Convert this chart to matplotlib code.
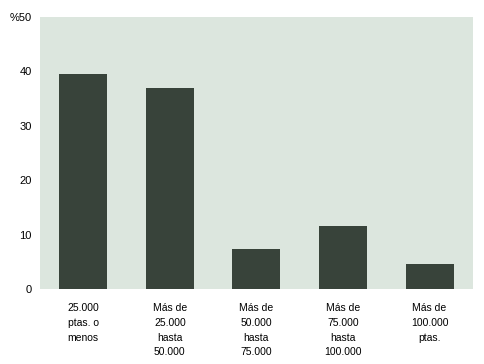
import matplotlib.pyplot as plt

plt.rcParams["font.family"] = ["Liberation Sans", "DejaVu Sans"]

categories = [
    "25.000\nptas. o\nmenos",
    "Más de\n25.000\nhasta\n50.000",
    "Más de\n50.000\nhasta\n75.000",
    "Más de\n75.000\nhasta\n100.000",
    "Más de\n100.000\nptas.",
]
values = [39.5, 36.9, 7.4, 11.6, 4.6]
yticks = [0, 10, 20, 30, 40, 50]
ytick_labels = ["0", "10", "20", "30", "40", "%50"]

fig = plt.figure(figsize=(4.84, 3.64), dpi=100)
ax = fig.add_axes([0.0826, 0.206, 0.8944, 0.747])
ax.set_facecolor("#dce6de")

ax.bar(range(len(values)), values, width=0.555, color="#38433a")

ax.set_xlim(-0.5, len(values) - 0.5)
ax.set_ylim(0, 50)
ax.set_yticks(yticks)
ax.set_yticklabels(ytick_labels, fontsize=8)
ax.set_xticks(range(len(values)))
ax.set_xticklabels(categories, fontsize=7.5, linespacing=1.6, va="top")
ax.tick_params(axis="both", length=0)
ax.tick_params(axis="y", pad=6)
ax.tick_params(axis="x", pad=10)
for s in ax.spines.values():
    s.set_visible(False)

fig.savefig("out.png", dpi=100)
